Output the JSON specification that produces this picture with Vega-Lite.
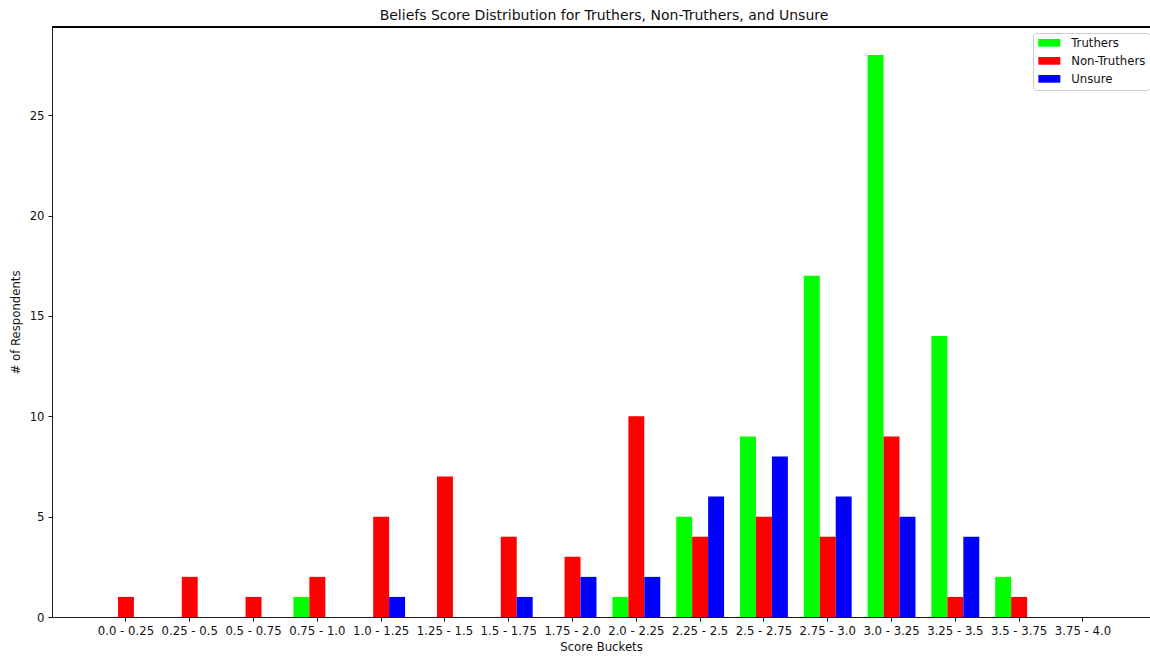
{
  "$schema": "https://vega.github.io/schema/vega-lite/v6.json",
  "autosize": "none",
  "width": 1098,
  "height": 590,
  "padding": {"left": 52, "top": 27, "right": 0, "bottom": 39},
  "background": "white",
  "config": {
    "view": {"stroke": null},
    "font": "DejaVu Sans",
    "axis": {"labelFont": "DejaVu Sans", "titleFont": "DejaVu Sans", "labelColor": "#111", "titleColor": "#111", "titleFontWeight": "normal", "domainColor": "#000", "tickColor": "#000", "domainWidth": 0.9, "tickWidth": 0.9, "tickSize": 4, "labelPadding": 4, "labelFontSize": 11.7, "titleFontSize": 11.7, "grid": false}
  },
  "title": {"text": "Beliefs Score Distribution for Truthers, Non-Truthers, and Unsure", "font": "DejaVu Sans", "fontSize": 14, "fontWeight": "normal", "color": "#111", "anchor": "middle", "offset": 4, "dx": 3},
  "data": {"values": [
    {"bucket": "0.0 - 0.25", "group": "Truthers", "count": 0},
    {"bucket": "0.0 - 0.25", "group": "Non-Truthers", "count": 1},
    {"bucket": "0.0 - 0.25", "group": "Unsure", "count": 0},
    {"bucket": "0.25 - 0.5", "group": "Truthers", "count": 0},
    {"bucket": "0.25 - 0.5", "group": "Non-Truthers", "count": 2},
    {"bucket": "0.25 - 0.5", "group": "Unsure", "count": 0},
    {"bucket": "0.5 - 0.75", "group": "Truthers", "count": 0},
    {"bucket": "0.5 - 0.75", "group": "Non-Truthers", "count": 1},
    {"bucket": "0.5 - 0.75", "group": "Unsure", "count": 0},
    {"bucket": "0.75 - 1.0", "group": "Truthers", "count": 1},
    {"bucket": "0.75 - 1.0", "group": "Non-Truthers", "count": 2},
    {"bucket": "0.75 - 1.0", "group": "Unsure", "count": 0},
    {"bucket": "1.0 - 1.25", "group": "Truthers", "count": 0},
    {"bucket": "1.0 - 1.25", "group": "Non-Truthers", "count": 5},
    {"bucket": "1.0 - 1.25", "group": "Unsure", "count": 1},
    {"bucket": "1.25 - 1.5", "group": "Truthers", "count": 0},
    {"bucket": "1.25 - 1.5", "group": "Non-Truthers", "count": 7},
    {"bucket": "1.25 - 1.5", "group": "Unsure", "count": 0},
    {"bucket": "1.5 - 1.75", "group": "Truthers", "count": 0},
    {"bucket": "1.5 - 1.75", "group": "Non-Truthers", "count": 4},
    {"bucket": "1.5 - 1.75", "group": "Unsure", "count": 1},
    {"bucket": "1.75 - 2.0", "group": "Truthers", "count": 0},
    {"bucket": "1.75 - 2.0", "group": "Non-Truthers", "count": 3},
    {"bucket": "1.75 - 2.0", "group": "Unsure", "count": 2},
    {"bucket": "2.0 - 2.25", "group": "Truthers", "count": 1},
    {"bucket": "2.0 - 2.25", "group": "Non-Truthers", "count": 10},
    {"bucket": "2.0 - 2.25", "group": "Unsure", "count": 2},
    {"bucket": "2.25 - 2.5", "group": "Truthers", "count": 5},
    {"bucket": "2.25 - 2.5", "group": "Non-Truthers", "count": 4},
    {"bucket": "2.25 - 2.5", "group": "Unsure", "count": 6},
    {"bucket": "2.5 - 2.75", "group": "Truthers", "count": 9},
    {"bucket": "2.5 - 2.75", "group": "Non-Truthers", "count": 5},
    {"bucket": "2.5 - 2.75", "group": "Unsure", "count": 8},
    {"bucket": "2.75 - 3.0", "group": "Truthers", "count": 17},
    {"bucket": "2.75 - 3.0", "group": "Non-Truthers", "count": 4},
    {"bucket": "2.75 - 3.0", "group": "Unsure", "count": 6},
    {"bucket": "3.0 - 3.25", "group": "Truthers", "count": 28},
    {"bucket": "3.0 - 3.25", "group": "Non-Truthers", "count": 9},
    {"bucket": "3.0 - 3.25", "group": "Unsure", "count": 5},
    {"bucket": "3.25 - 3.5", "group": "Truthers", "count": 14},
    {"bucket": "3.25 - 3.5", "group": "Non-Truthers", "count": 1},
    {"bucket": "3.25 - 3.5", "group": "Unsure", "count": 4},
    {"bucket": "3.5 - 3.75", "group": "Truthers", "count": 2},
    {"bucket": "3.5 - 3.75", "group": "Non-Truthers", "count": 1},
    {"bucket": "3.5 - 3.75", "group": "Unsure", "count": 0},
    {"bucket": "3.75 - 4.0", "group": "Truthers", "count": 0},
    {"bucket": "3.75 - 4.0", "group": "Non-Truthers", "count": 0},
    {"bucket": "3.75 - 4.0", "group": "Unsure", "count": 0}
  ]},
  "layer": [
    {
      "mark": {"type": "bar", "opacity": 1},
      "encoding": {
        "x": {"field": "bucket", "type": "nominal", "sort": null, "title": "Score Buckets",
              "scale": {"paddingInner": 0.25, "paddingOuter": 0.73, "align": 0.537},
              "axis": {"labelAngle": 0, "titlePadding": 5}},
        "xOffset": {"field": "group", "type": "nominal", "sort": ["Truthers", "Non-Truthers", "Unsure"],
                    "scale": {"paddingInner": 0, "paddingOuter": 0}},
        "y": {"field": "count", "type": "quantitative", "title": "# of Respondents",
              "scale": {"domain": [0, 29.4], "nice": false, "zero": true},
              "axis": {"values": [0, 5, 10, 15, 20, 25], "titlePadding": 8}},
        "color": {"field": "group", "type": "nominal",
                  "scale": {"domain": ["Truthers", "Non-Truthers", "Unsure"], "range": ["#00ff00", "#ff0000", "#0000ff"]},
                  "legend": {"title": null, "orient": "none", "legendX": 981, "legendY": 6,
                             "symbolType": "M-2,-0.7H2V0.7H-2Z", "symbolSize": 121, "symbolStrokeWidth": 0,
                             "symbolOffset": 6.5,
                             "labelFont": "DejaVu Sans", "labelFontSize": 11.7, "labelColor": "#111",
                             "strokeColor": "#cccccc", "fillColor": "white", "cornerRadius": 3,
                             "padding": 4, "rowPadding": 5, "labelOffset": 16}}
      }
    },
    {
      "mark": {"type": "rule", "color": "#000", "strokeWidth": 0.9},
      "encoding": {"y": {"datum": 29.4}}
    }
  ]
}
